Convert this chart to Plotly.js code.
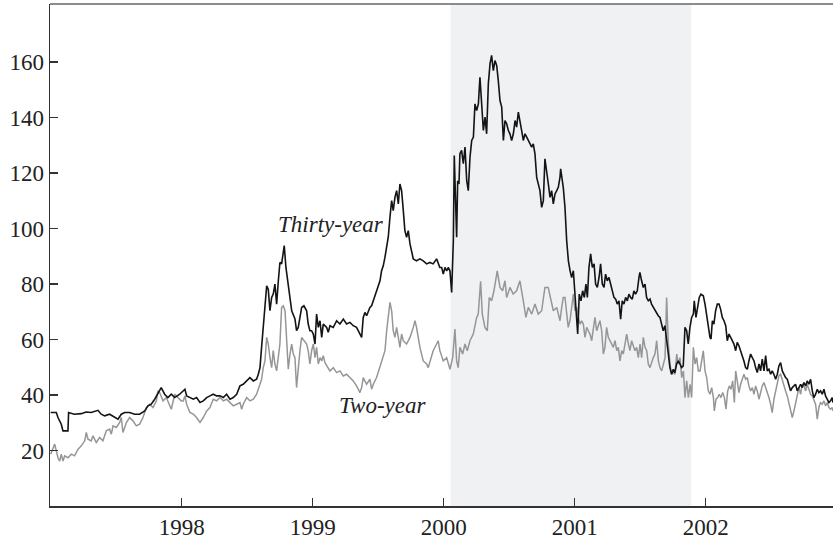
<!DOCTYPE html>
<html>
<head>
<meta charset="utf-8">
<script src="https://cdn.plot.ly/plotly-3.0.1.min.js"></script>
<style>html,body{margin:0;padding:0;background:#fff;}#chart{width:833px;height:539px;}</style>
</head>
<body>
<div id="chart"></div>
<script>
// Thirty-year series (year, value)
const thirtyYearT = [1997.000,1997.043,1997.056,1997.081,1997.094,1997.119,1997.132,1997.137,1997.180,1997.234,1997.270,1997.310,1997.361,1997.386,1997.412,1997.450,1997.489,1997.514,1997.539,1997.565,1997.603,1997.641,1997.679,1997.718,1997.743,1997.768,1997.794,1997.819,1997.844,1997.870,1997.895,1997.921,1997.947,1997.985,
1998.012,1998.025,1998.038,1998.063,1998.089,1998.114,1998.140,1998.165,1998.191,1998.216,1998.241,1998.267,1998.292,1998.318,1998.343,1998.369,1998.394,1998.420,1998.445,1998.470,1998.496,1998.521,1998.547,1998.572,1998.585,1998.598,1998.610,1998.623,1998.636,1998.649,1998.661,1998.674,1998.687,1998.699,1998.712,1998.725,1998.738,1998.750,1998.763,1998.776,1998.783,1998.796,1998.814,1998.827,1998.840,1998.865,1998.877,1998.890,1998.916,1998.933,1998.954,1998.966,1998.979,
1998.992,1999.005,1999.018,1999.030,1999.043,1999.056,1999.069,1999.081,1999.107,1999.119,1999.132,1999.157,1999.183,1999.208,1999.234,1999.259,1999.285,1999.310,1999.335,1999.361,1999.374,1999.386,1999.399,1999.412,1999.437,1999.450,1999.463,1999.488,1999.514,1999.526,1999.539,1999.552,1999.565,1999.577,1999.590,1999.603,1999.615,1999.628,1999.641,1999.654,1999.666,1999.679,1999.692,1999.704,1999.717,1999.730,1999.743,1999.755,1999.768,1999.793,1999.819,1999.844,1999.870,1999.895,1999.920,1999.946,1999.971,
1999.985,1999.997,2000.010,2000.023,2000.035,2000.048,2000.061,2000.074,2000.081,2000.092,2000.099,2000.107,2000.117,2000.124,2000.137,2000.150,2000.163,2000.176,2000.188,2000.201,2000.214,2000.227,2000.239,2000.252,2000.265,2000.277,2000.290,2000.303,2000.316,2000.328,2000.341,2000.354,2000.366,2000.379,2000.392,2000.405,2000.417,2000.430,2000.443,2000.456,2000.468,2000.481,2000.494,2000.506,2000.519,2000.532,2000.545,2000.557,2000.570,2000.583,2000.595,2000.608,2000.621,2000.634,2000.646,2000.659,2000.672,2000.684,2000.697,2000.710,2000.723,2000.735,2000.748,2000.761,2000.773,2000.786,2000.799,2000.812,2000.824,2000.837,2000.850,2000.863,2000.875,2000.888,2000.893,2000.913,2000.926,2000.939,2000.952,2000.965,2000.977,2000.990,
2001.003,2001.015,2001.023,2001.035,2001.048,2001.061,2001.074,2001.086,2001.097,2001.109,2001.122,2001.135,2001.148,2001.160,2001.173,2001.186,2001.198,2001.211,2001.224,2001.236,2001.249,2001.262,2001.275,2001.287,2001.300,2001.313,2001.325,2001.338,2001.351,2001.363,2001.376,2001.389,2001.402,2001.414,2001.427,2001.440,2001.452,2001.465,2001.478,2001.491,2001.498,2001.511,2001.524,2001.537,2001.549,2001.562,2001.575,2001.587,2001.600,2001.613,2001.626,2001.638,2001.651,2001.664,2001.676,2001.689,2001.702,2001.715,2001.727,2001.740,2001.753,2001.765,2001.778,2001.791,2001.804,2001.816,2001.829,2001.834,2001.842,2001.855,2001.867,2001.880,2001.893,2001.906,2001.913,2001.926,2001.939,2001.951,2001.964,
2001.982,2001.995,2002.008,2002.020,2002.033,2002.041,2002.051,2002.063,2002.076,2002.089,2002.102,2002.114,2002.127,2002.140,2002.153,2002.165,2002.178,2002.191,2002.203,2002.216,2002.229,2002.241,2002.254,2002.267,2002.280,2002.292,2002.305,2002.318,2002.330,2002.343,2002.356,2002.369,2002.381,2002.394,2002.407,2002.419,2002.432,2002.445,2002.458,2002.470,2002.483,2002.496,2002.508,2002.521,2002.534,2002.547,2002.559,2002.572,2002.585,2002.597,2002.610,2002.623,2002.636,2002.648,2002.661,2002.674,2002.686,2002.699,2002.712,2002.725,2002.737,2002.750,2002.763,2002.775,2002.788,2002.801,2002.814,2002.826,2002.839,2002.852,2002.864,2002.877,2002.890,2002.903,2002.915,2002.928,2002.941,2002.953,2002.966,2002.971];
const thirtyYearV = [33.7,33.7,31.9,29.5,27.1,27.1,27.1,33.7,33.1,33.3,33.9,33.7,34.5,33.1,32.5,33.1,31.9,31.3,33.1,33.7,33.7,33.1,33.1,34.3,36.1,36.7,38.5,40.9,42.7,40.3,39.1,40.3,39.1,40.3,
41.5,42.1,39.7,39.1,38.5,39.1,37.3,37.9,39.1,39.7,40.3,39.7,39.7,39.1,40.3,38.5,39.1,40.3,43.3,43.9,45.1,46.3,45.1,45.7,47.5,49.9,57.2,64.4,72.8,79.4,78.2,70.4,75.2,76.4,80.0,72.8,81.2,87.8,87.3,92.1,93.9,86.0,79.4,74.0,70.4,67.4,63.2,64.4,71.6,72.2,70.4,65.6,63.2,
63.2,62.0,58.4,69.2,64.4,66.8,60.8,65.6,64.4,62.6,65.0,64.4,66.8,65.6,67.4,65.6,66.2,65.0,64.4,62.0,60.8,68.0,69.8,68.6,71.6,72.2,74.0,77.6,81.2,84.8,86.6,89.7,93.3,96.9,104.1,110.1,106.5,111.3,113.7,108.9,116.1,113.7,106.5,99.3,96.9,99.3,94.5,92.1,89.1,88.4,89.1,88.4,87.3,87.8,87.3,89.1,86.0,
86.0,83.6,86.0,84.8,86.0,84.8,77.0,95.7,126.4,104.1,96.9,117.3,116.1,127.0,128.2,123.4,129.4,117.3,113.7,125.7,131.8,133.0,145.0,142.6,145.0,154.6,143.8,135.4,140.2,134.2,152.2,159.5,162.5,157.0,160.6,158.8,153.4,146.2,143.8,131.8,139.0,137.8,135.4,134.2,131.8,134.2,139.0,136.6,142.0,139.0,135.4,131.8,134.2,133.0,131.8,130.6,129.4,130.6,127.0,118.5,116.1,113.7,107.7,110.1,125.2,119.7,116.1,111.3,113.7,108.9,112.5,113.7,114.9,118.5,121.6,114.9,107.7,95.7,88.4,84.8,82.4,84.8,
75.2,68.0,62.0,76.4,74.0,77.6,75.2,80.0,75.2,86.0,90.9,86.0,87.3,80.0,78.8,82.4,87.3,80.0,78.8,83.6,81.2,82.4,80.0,77.6,75.2,74.6,72.8,74.0,67.4,74.0,72.8,75.2,74.0,76.4,75.2,74.6,77.6,76.4,77.6,82.4,84.2,81.2,78.8,80.0,75.2,74.0,74.6,72.8,71.6,70.4,69.2,68.6,68.0,65.6,63.2,65.0,60.8,54.8,49.9,47.5,49.3,48.1,51.2,52.3,51.2,49.9,50.5,59.6,64.4,63.2,58.4,64.4,68.0,69.2,74.0,68.0,71.6,75.2,76.4,
75.8,72.8,69.2,64.4,60.8,60.2,66.8,65.6,70.4,72.8,72.8,71.0,68.0,66.8,65.0,59.6,62.0,60.8,59.6,58.4,56.0,59.0,57.8,56.0,54.8,52.3,49.9,49.3,52.3,54.8,53.5,52.3,49.9,48.1,51.2,48.7,53.0,48.7,54.2,48.7,49.3,47.5,48.7,47.5,45.7,47.5,50.5,51.7,48.7,47.5,46.3,45.7,43.9,41.5,42.7,43.3,43.9,41.5,42.7,43.9,42.7,44.5,43.3,45.1,43.9,45.7,41.5,39.1,40.3,42.1,40.9,41.5,40.3,42.1,39.7,38.5,37.3,37.9,39.1,37.3];

// Two-year series (year, value)
const twoYearT = [1997.000,1997.018,1997.031,1997.043,1997.056,1997.069,1997.081,1997.094,1997.107,1997.132,1997.158,1997.183,1997.209,1997.234,1997.260,1997.272,1997.285,1997.310,1997.323,1997.348,1997.374,1997.399,1997.425,1997.450,1997.463,1997.476,1997.501,1997.527,1997.539,1997.552,1997.578,1997.603,1997.628,1997.654,1997.679,1997.705,1997.730,1997.756,1997.781,1997.807,1997.819,1997.832,1997.858,1997.883,1997.908,1997.921,1997.947,1997.972,1997.997,
1998.012,1998.025,1998.038,1998.063,1998.089,1998.114,1998.140,1998.165,1998.191,1998.216,1998.241,1998.267,1998.292,1998.318,1998.343,1998.369,1998.394,1998.420,1998.445,1998.458,1998.470,1998.496,1998.521,1998.547,1998.572,1998.598,1998.610,1998.623,1998.636,1998.649,1998.661,1998.674,1998.687,1998.699,1998.712,1998.725,1998.738,1998.750,1998.763,1998.776,1998.789,1998.801,1998.814,1998.827,1998.840,1998.852,1998.865,1998.877,1998.890,1998.903,1998.916,1998.933,1998.954,1998.966,1998.979,
1998.992,1999.005,1999.018,1999.030,1999.043,1999.056,1999.069,1999.081,1999.094,1999.119,1999.132,1999.157,1999.183,1999.208,1999.234,1999.259,1999.285,1999.310,1999.335,1999.361,1999.374,1999.386,1999.412,1999.437,1999.450,1999.463,1999.488,1999.514,1999.539,1999.552,1999.565,1999.577,1999.590,1999.603,1999.615,1999.628,1999.641,1999.654,1999.666,1999.679,1999.692,1999.717,1999.743,1999.768,1999.781,1999.793,1999.806,1999.819,1999.844,1999.870,1999.882,1999.895,1999.920,1999.946,1999.958,1999.971,
1999.997,2000.023,2000.048,2000.069,2000.086,2000.099,2000.111,2000.124,2000.145,2000.163,2000.180,2000.201,2000.226,2000.252,2000.264,2000.282,2000.295,2000.315,2000.333,2000.348,2000.366,2000.384,2000.409,2000.430,2000.450,2000.468,2000.481,2000.506,2000.531,2000.557,2000.582,2000.608,2000.628,2000.646,2000.672,2000.697,2000.722,2000.748,2000.773,2000.798,2000.817,2000.837,2000.863,2000.888,2000.901,2000.913,2000.926,2000.939,2000.951,
2000.964,2000.977,2000.990,2001.002,2001.015,2001.028,2001.041,2001.053,2001.066,2001.079,2001.092,2001.104,2001.117,2001.130,2001.142,2001.155,2001.168,2001.181,2001.193,2001.206,2001.219,2001.231,2001.244,2001.257,2001.270,2001.282,2001.295,2001.308,2001.321,2001.333,2001.346,2001.359,2001.371,2001.384,2001.397,2001.410,2001.422,2001.435,2001.448,2001.460,2001.473,2001.486,2001.499,2001.511,2001.524,2001.537,2001.550,2001.562,2001.575,2001.588,2001.600,2001.613,2001.626,2001.639,2001.651,2001.664,2001.677,2001.690,2001.702,2001.715,2001.728,2001.740,2001.753,2001.766,2001.779,2001.791,2001.804,2001.817,2001.830,2001.842,2001.855,2001.868,2001.881,2001.893,2001.906,2001.919,2001.931,2001.944,
2001.957,2001.969,2001.982,2001.995,2002.008,2002.020,2002.033,2002.046,2002.059,2002.066,2002.079,2002.092,2002.104,2002.117,2002.130,2002.143,2002.155,2002.168,2002.181,2002.193,2002.206,2002.219,2002.229,2002.241,2002.254,2002.267,2002.280,2002.292,2002.305,2002.318,2002.330,2002.343,2002.356,2002.369,2002.381,2002.394,2002.407,2002.419,2002.432,2002.445,2002.458,2002.470,2002.483,2002.496,2002.508,2002.521,2002.534,2002.547,2002.559,2002.572,2002.585,2002.597,2002.610,2002.623,2002.636,2002.648,2002.661,2002.674,2002.686,2002.699,2002.712,2002.725,2002.737,2002.750,2002.763,2002.775,2002.788,2002.801,2002.814,2002.826,2002.839,2002.852,2002.864,2002.877,2002.890,2002.903,2002.915,2002.928,2002.941,2002.953,2002.966,2002.971];
const twoYearV = [18.7,20.5,22.3,19.9,17.4,16.2,18.7,16.2,18.1,17.4,18.7,18.1,20.5,21.7,23.5,26.5,24.1,23.5,25.3,22.9,24.7,23.5,27.1,27.7,25.9,28.9,28.3,30.1,31.9,26.5,30.1,31.9,30.7,28.9,29.5,31.9,35.5,36.7,35.5,37.9,41.5,40.9,37.9,39.1,36.7,34.9,40.3,39.1,37.9,
37.9,39.7,36.7,33.7,33.1,31.9,30.1,31.9,34.3,35.5,38.5,37.9,39.1,37.9,38.5,37.3,36.1,36.7,37.3,34.9,36.7,39.1,37.9,38.5,40.3,43.9,45.7,49.9,52.3,60.8,58.4,53.5,49.9,56.0,51.2,48.7,54.8,58.4,71.6,72.2,70.4,60.8,49.3,54.8,58.4,54.8,53.5,42.7,51.2,56.0,60.8,59.6,58.4,56.0,51.2,
56.0,58.4,53.5,57.2,51.2,53.5,52.3,54.2,51.7,49.9,48.7,49.9,48.1,48.7,46.9,47.5,46.3,45.1,43.3,40.9,42.7,46.3,43.9,45.7,42.1,43.9,46.3,49.9,53.5,56.0,63.2,68.0,73.4,70.4,63.2,60.8,64.4,60.8,57.2,62.0,59.6,58.4,60.8,64.4,66.8,64.4,60.8,57.2,52.3,51.2,49.9,52.3,56.0,58.4,59.6,56.0,
52.3,53.5,49.3,53.5,63.8,52.3,49.9,57.2,54.8,58.4,56.0,59.6,62.0,68.0,69.2,81.0,69.2,64.4,63.2,75.2,74.0,77.6,84.8,78.8,77.6,81.2,75.2,78.8,76.4,77.6,81.2,74.0,68.0,71.6,69.2,72.8,69.2,70.4,78.8,78.8,75.2,70.4,71.6,66.8,71.6,75.2,75.2,69.2,64.4,
66.8,71.6,76.4,70.4,71.6,68.0,65.6,66.8,65.6,60.8,64.4,63.2,62.0,59.6,63.2,68.0,63.2,65.6,66.8,63.2,54.8,57.2,64.4,60.8,59.6,58.4,57.2,59.6,56.0,57.2,52.3,56.0,54.8,58.4,62.0,58.4,56.0,59.6,57.2,56.0,57.2,53.5,58.4,53.5,60.8,57.2,56.0,51.2,49.9,52.3,53.5,54.8,59.6,52.3,49.9,48.7,51.2,53.5,75.2,58.4,51.2,47.5,48.1,47.5,54.8,51.2,53.5,46.3,48.7,39.1,45.1,39.1,43.9,39.1,57.2,51.2,53.5,48.7,
48.7,52.3,56.0,48.7,46.3,41.5,40.3,42.7,39.1,34.3,38.5,39.1,40.3,39.1,40.9,39.1,34.9,41.5,43.3,42.1,45.1,37.3,48.7,45.1,40.9,43.9,46.3,47.5,45.7,46.3,43.3,41.5,42.7,40.3,43.3,41.5,38.5,41.5,43.3,44.5,42.7,41.5,39.1,36.7,33.7,38.5,41.5,45.1,46.9,47.5,45.1,43.3,41.5,39.7,37.3,34.3,31.9,34.3,37.3,40.9,42.7,40.3,43.9,43.3,41.5,43.9,42.1,40.3,39.7,38.5,36.7,31.3,35.5,37.3,36.7,37.9,36.1,37.3,35.5,34.9,35.5,34.3];

const xTickVals = [1998, 1999, 2000, 2001, 2002];
const xTickText = ["1998", "1999", "2000", "2001", "2002"];
const yTickVals = [20, 40, 60, 80, 100, 120, 140, 160];
const shadeStart = 2000.053, shadeEnd = 2001.89;

const serif = "Liberation Serif, Times New Roman, serif";

const traces = [
  {x: twoYearT, y: twoYearV, type: 'scatter', mode: 'lines', line: {color: '#969696', width: 1.5}, hoverinfo: 'skip'},
  {x: thirtyYearT, y: thirtyYearV, type: 'scatter', mode: 'lines', line: {color: '#141414', width: 1.6}, hoverinfo: 'skip'}
];

const layout = {
  width: 833, height: 539,
  margin: {l: 50, r: 0, t: 4, b: 33},
  paper_bgcolor: '#ffffff', plot_bgcolor: '#ffffff',
  showlegend: false,
  font: {family: serif, size: 23, color: '#222'},
  xaxis: {
    range: [1996.995, 2002.972], tickvals: xTickVals, ticktext: xTickText,
    ticks: 'inside', ticklen: 8, tickwidth: 1.5, tickcolor: '#333',
    showline: true, linecolor: '#333', linewidth: 1.5,
    showgrid: false, zeroline: false,
    tickfont: {family: serif, size: 23, color: '#222'}
  },
  yaxis: {
    range: [0, 181], tickvals: yTickVals,
    ticks: 'inside', ticklen: 8, tickwidth: 1.5, tickcolor: '#333',
    showline: true, linecolor: '#333', linewidth: 1.5,
    showgrid: false, zeroline: false,
    tickfont: {family: serif, size: 23, color: '#222'}
  },
  shapes: [
    {type: 'rect', xref: 'x', yref: 'paper', x0: shadeStart, x1: shadeEnd, y0: 0, y1: 1, fillcolor: '#f0f1f3', line: {width: 0}, layer: 'below'},
    {type: 'line', xref: 'paper', yref: 'paper', x0: 0, x1: 1, y0: 1, y1: 1, line: {color: '#666', width: 1.5}}
  ],
  annotations: [
    {x: 1999.14, y: 101.4, xref: 'x', yref: 'y', text: '<i>Thirty-year</i>', showarrow: false, font: {family: serif, size: 23, color: '#222'}},
    {x: 1999.54, y: 36.1, xref: 'x', yref: 'y', text: '<i>Two-year</i>', showarrow: false, font: {family: serif, size: 23, color: '#222'}}
  ]
};

Plotly.newPlot('chart', traces, layout, {staticPlot: true, displayModeBar: false});
</script>
</body>
</html>
